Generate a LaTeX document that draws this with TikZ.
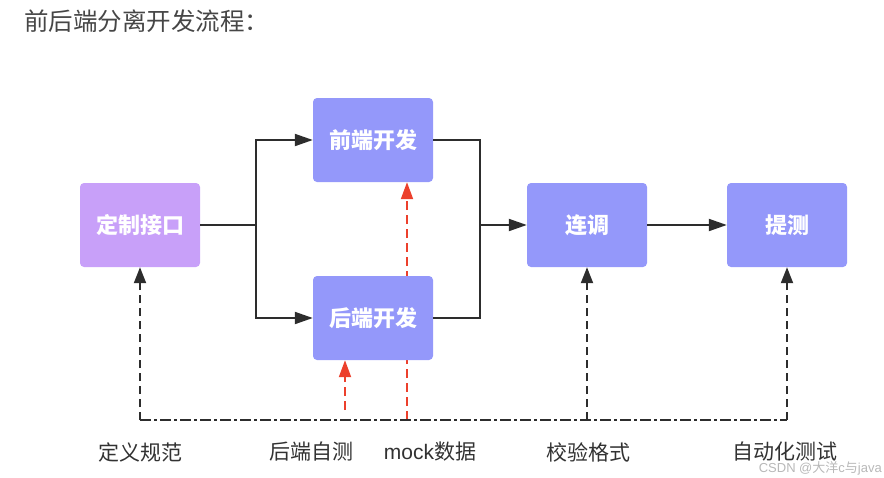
\documentclass[tikz,border=0pt]{standalone}
\usepackage{fontspec}
\setmainfont{Noto Sans CJK SC}
\newfontfamily\cjkfont{Noto Sans CJK SC}
\newfontfamily\latfont{Liberation Sans}
\usetikzlibrary{arrows.meta,backgrounds}
\definecolor{lilac}{RGB}{200,160,249}
\definecolor{bluebox}{RGB}{148,152,250}
\definecolor{redline}{RGB}{236,64,44}
\definecolor{darkline}{RGB}{45,45,45}
\definecolor{labelgray}{RGB}{50,50,50}
\definecolor{titlegray}{RGB}{70,70,70}
\tikzset{
  box/.style={rounded corners=4pt, minimum width=120pt, minimum height=84pt, inner sep=0pt,
    text=white, font=\cjkfont\bfseries\fontsize{22}{24}\selectfont},
  purplebox/.style={box, fill=lilac},
  bluestyle/.style={box, fill=bluebox},
  flow/.style={draw=darkline, line width=2pt},
  flowarr/.style={flow, -{Triangle[length=18pt,width=12pt]}},
  blackdash/.style={draw=darkline, line width=2pt, dash pattern=on 8pt off 5pt, -{Triangle[length=16pt,width=12pt]}},
  reddash/.style={draw=redline, line width=2pt, dash pattern=on 9pt off 5pt, -{Triangle[length=17pt,width=12pt]}},
  dashdotline/.style={draw=darkline, line width=2pt, dash pattern=on 11pt off 3pt on 3pt off 3pt},
  lbl/.style={text=labelgray, font=\cjkfont\fontsize{21}{24}\selectfont, inner sep=0pt},
}
\begin{document}
\begin{tikzpicture}[x=1pt,y=-1pt]
\useasboundingbox (0,0) rectangle (884,477);
\node[anchor=west, text=titlegray, font=\cjkfont\fontsize{24.5}{26}\selectfont, inner sep=0pt] (title) at (24,21) {前后端分离开发流程：};

\node[purplebox] (def) at (140,225) {定制接口};
\node[bluestyle] (fe) at (373,140) {前端开发};
\node[bluestyle] (be) at (373,318) {后端开发};
\node[bluestyle] (ld) at (587,225) {连调};
\node[bluestyle] (ts) at (787,225) {提测};

% split and join
\coordinate (split) at (256,225);
\coordinate (join) at (480,225);
\draw[flow] (def.east) -- (split);
\draw[flowarr] (split) |- (fe.west);
\draw[flowarr] (split) |- (be.west);
\draw[flow] (fe.east) -| (join);
\draw[flow] (be.east) -| (join);
\draw[flowarr] (join) -- (ld.west);
\draw[flowarr] (ld.east) -- (ts.west);

% bottom dash-dot line
\coordinate (b1) at (140,420);
\coordinate (b4) at (587,420);
\coordinate (b5) at (787,420);
\draw[dashdotline] (b1) -- (b5);
\draw[blackdash] (b1) -- (def.south);
\draw[blackdash] (b4) -- (ld.south);
\draw[blackdash] (b5) -- (ts.south);

% red dashed
\coordinate (r1) at (345,410);
\coordinate (r2) at (407,420);
\draw[reddash] (r1) -- (r1 |- be.south);
\begin{pgfonlayer}{background}
\draw[reddash] (r2) -- (r2 |- fe.south);
\end{pgfonlayer}

% labels
\node[lbl] (l1) at (140,452) {定义规范};
\node[lbl] (l2) at (311,452) {后端自测};
\node[lbl] (l3) at (430,452) {{\latfont mock}数据};
\node[lbl] (l4) at (588,452) {校验格式};
\node[lbl] (l5) at (785,452) {自动化测试};
\node[anchor=east, text=black!28, font=\latfont\fontsize{13}{14}\selectfont, inner sep=0pt] (wm) at (882,468) {CSDN @{\cjkfont 大洋}c{\cjkfont 与}java};
\end{tikzpicture}
\end{document}
